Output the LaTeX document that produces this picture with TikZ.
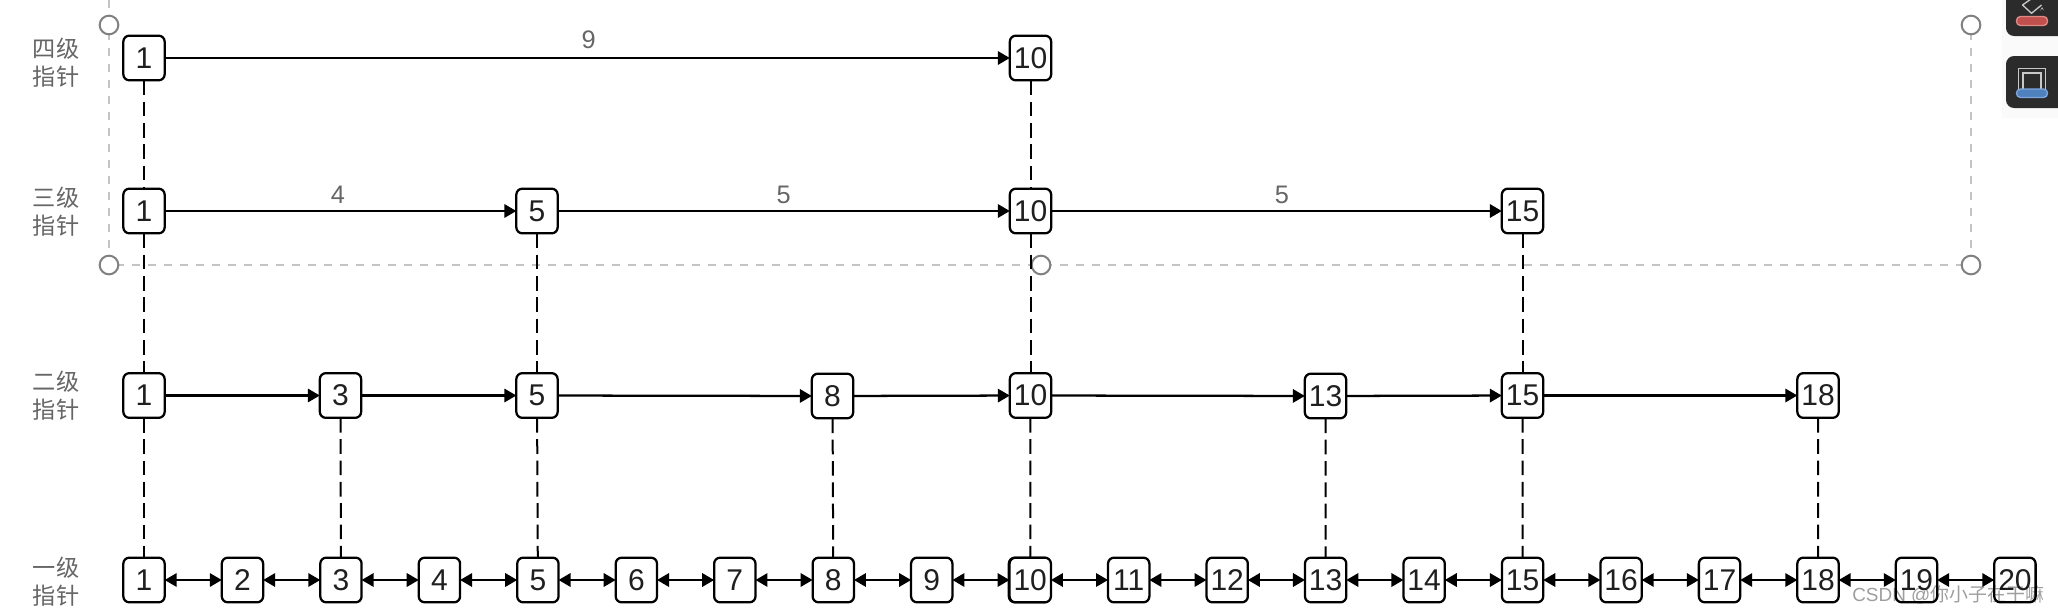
\documentclass[tikz,border=0pt]{standalone}
\usepackage{fontspec}
\setmainfont{Liberation Sans}
\newfontfamily\cjk{Noto Sans CJK SC}
\usetikzlibrary{arrows.meta}
\definecolor{guide}{HTML}{C4C4C4}
\definecolor{handle}{HTML}{808080}
\definecolor{lab}{HTML}{666666}
\definecolor{iconbg}{HTML}{2B2B2B}
\definecolor{iconline}{HTML}{C8C8C8}
\definecolor{redbar}{HTML}{C0504D}
\definecolor{redrim}{HTML}{E08A85}
\definecolor{bluebar}{HTML}{4F81BD}
\definecolor{bluerim}{HTML}{7EA6E0}
\tikzset{
  x=0.75pt,y=-0.75pt,
  keybox/.style={draw=black,fill=white,line width=1.7pt,rounded corners=4.5pt,minimum width=31pt,minimum height=33.5pt,inner sep=0pt,outer sep=0pt,text=black!88,font=\fontsize{22.5}{26}\selectfont},
  link/.style={draw=black,line width=1.7pt,-{Triangle[length=9pt,width=10pt]}},
  both/.style={draw=black,line width=1.7pt,{Triangle[length=9pt,width=10pt]}-{Triangle[length=9pt,width=10pt]}},
  drop/.style={draw=black,line width=1.5pt,dash pattern=on 11pt off 5pt},
  guideline/.style={draw=guide,line width=1.5pt,dash pattern=on 6pt off 6pt},
  grip/.style={circle,draw=handle,fill=white,line width=1.5pt,minimum size=14pt,inner sep=0pt},
  level/.style={align=center,text=lab,font=\cjk\fontsize{17.4}{21}\selectfont},
  gap/.style={text=lab,font=\fontsize{19}{22}\selectfont},
  tile/.style={fill=iconbg,rounded corners=6pt},
}
\begin{document}
\begin{tikzpicture}
\clip (0,0) rectangle (2058,614);
\fill[white] (0,0) rectangle (2058,614);
% editor selection guides
\coordinate (g1) at (109,0);
\coordinate (g2) at (1971,8);
\draw[guideline] (g1) -- (109,265) -- (1971,265) -- (g2);
\node[grip] (h1) at (109,25) {};
\node[grip] (h2) at (109,265) {};
\node[grip] (h3) at (1041,265) {};
\node[grip] (h4) at (1971,265) {};
\node[grip] (h5) at (1971,25) {};
% level labels
\node[level] (l4) at (56,63) {四级\\指针};
\node[level] (l3) at (56,212) {三级\\指针};
\node[level] (l2) at (56,396) {二级\\指针};
\node[level] (l1) at (56,581.5) {一级\\指针};
% double edge of key 10 in the bottom row
\node[keybox] (a10b) at (1029.5,580) {};
% bottom row
\foreach \k in {1,...,20}{
  \pgfmathsetmacro{\xx}{144+(\k-1)*98.47}
  \node[keybox] (a\k) at (\xx,580) {\k};
}
\foreach \k [remember=\k as \p (initially 1)] in {2,...,20}{
  \draw[both] (a\p) -- (a\k);
}
% second row
\node[keybox] (b1) at (144,395.5) {1};
\node[keybox] (b3) at (340.5,395.5) {3};
\node[keybox] (b5) at (537,395.5) {5};
\node[keybox] (b8) at (832.5,396) {8};
\node[keybox] (b10) at (1030.5,395.5) {10};
\node[keybox] (b13) at (1325.5,396) {13};
\node[keybox] (b15) at (1522.5,395.5) {15};
\node[keybox] (b18) at (1818,395.5) {18};
\draw[link] (b1) -- (b3);
\draw[link] (b3) -- (b5);
\draw[link] (b5) -- (b8);
\draw[link] (b8) -- (b10);
\draw[link] (b10) -- (b13);
\draw[link] (b13) -- (b15);
\draw[link] (b15) -- (b18);
% third row
\node[keybox] (c1) at (144,211) {1};
\node[keybox] (c5) at (537,211) {5};
\node[keybox] (c10) at (1030.5,211) {10};
\node[keybox] (c15) at (1522.5,211) {15};
\draw[link] (c1) -- node[gap,above=1.5pt,xshift=-2pt] (t4) {4} (c5);
\draw[link] (c5) -- node[gap,above=1.5pt] (t5) {5} (c10);
\draw[link] (c10) -- node[gap,above=1.5pt,xshift=4pt] (t6) {5} (c15);
% fourth row
\node[keybox] (d1) at (144,58) {1};
\node[keybox] (d10) at (1030.5,58) {10};
\draw[link] (d1) -- node[gap,above=3pt,xshift=1pt] (t9) {9} (d10);
% vertical links
\draw[drop] (d1) -- (c1);
\draw[drop] (c1) -- (b1);
\draw[drop] (b1) -- (a1);
\draw[drop] (b3) -- (a3);
\draw[drop] (c5) -- (b5);
\draw[drop] (b5) -- (a5);
\draw[drop] (b8) -- (a8);
\draw[drop] (d10) -- (c10);
\draw[drop] (c10) -- (b10);
\draw[drop] (b10) -- (a10);
\draw[drop] (b13) -- (a13);
\draw[drop] (c15) -- (b15);
\draw[drop] (b15) -- (a15);
\draw[drop] (b18) -- (a18);
% toolbar tiles
\fill[black,opacity=.02] (2002,-10) rectangle (2070,46);
\fill[black,opacity=.02] (2002,46) rectangle (2070,118);
\fill[tile] (2006,-20) rectangle (2075,36);
\fill[tile] (2006,56) rectangle (2075,108);
\draw[iconline,line width=1pt,line join=round] (2031,-1) -- (2022.5,5) -- (2031.5,13.3) -- (2041.5,5);
\fill[iconline] (2042,7) -- (2044,11) arc (0:-180:2) -- cycle;
\draw[draw=redrim,fill=redbar,line width=1pt,rounded corners=3pt] (2016.5,16.5) rectangle (2047.5,25.5);
\draw[iconline,line width=1pt] (2018.5,89) -- (2018.5,68.5) -- (2045.5,68.5) -- (2045.5,89);
\draw[iconline,line width=1pt] (2023,89) -- (2023,73) -- (2041,73) -- (2041,89);
\draw[draw=bluerim,fill=bluebar,line width=1pt,rounded corners=3pt] (2016.5,89) rectangle (2047.5,97.5);
% watermark
\node[anchor=west,inner sep=0pt,text=black,opacity=.38,font=\fontsize{14.2}{17}\selectfont] (wm) at (1852,595) {CSDN @{\cjk 你小子在干嘛}};
\end{tikzpicture}
\end{document}
